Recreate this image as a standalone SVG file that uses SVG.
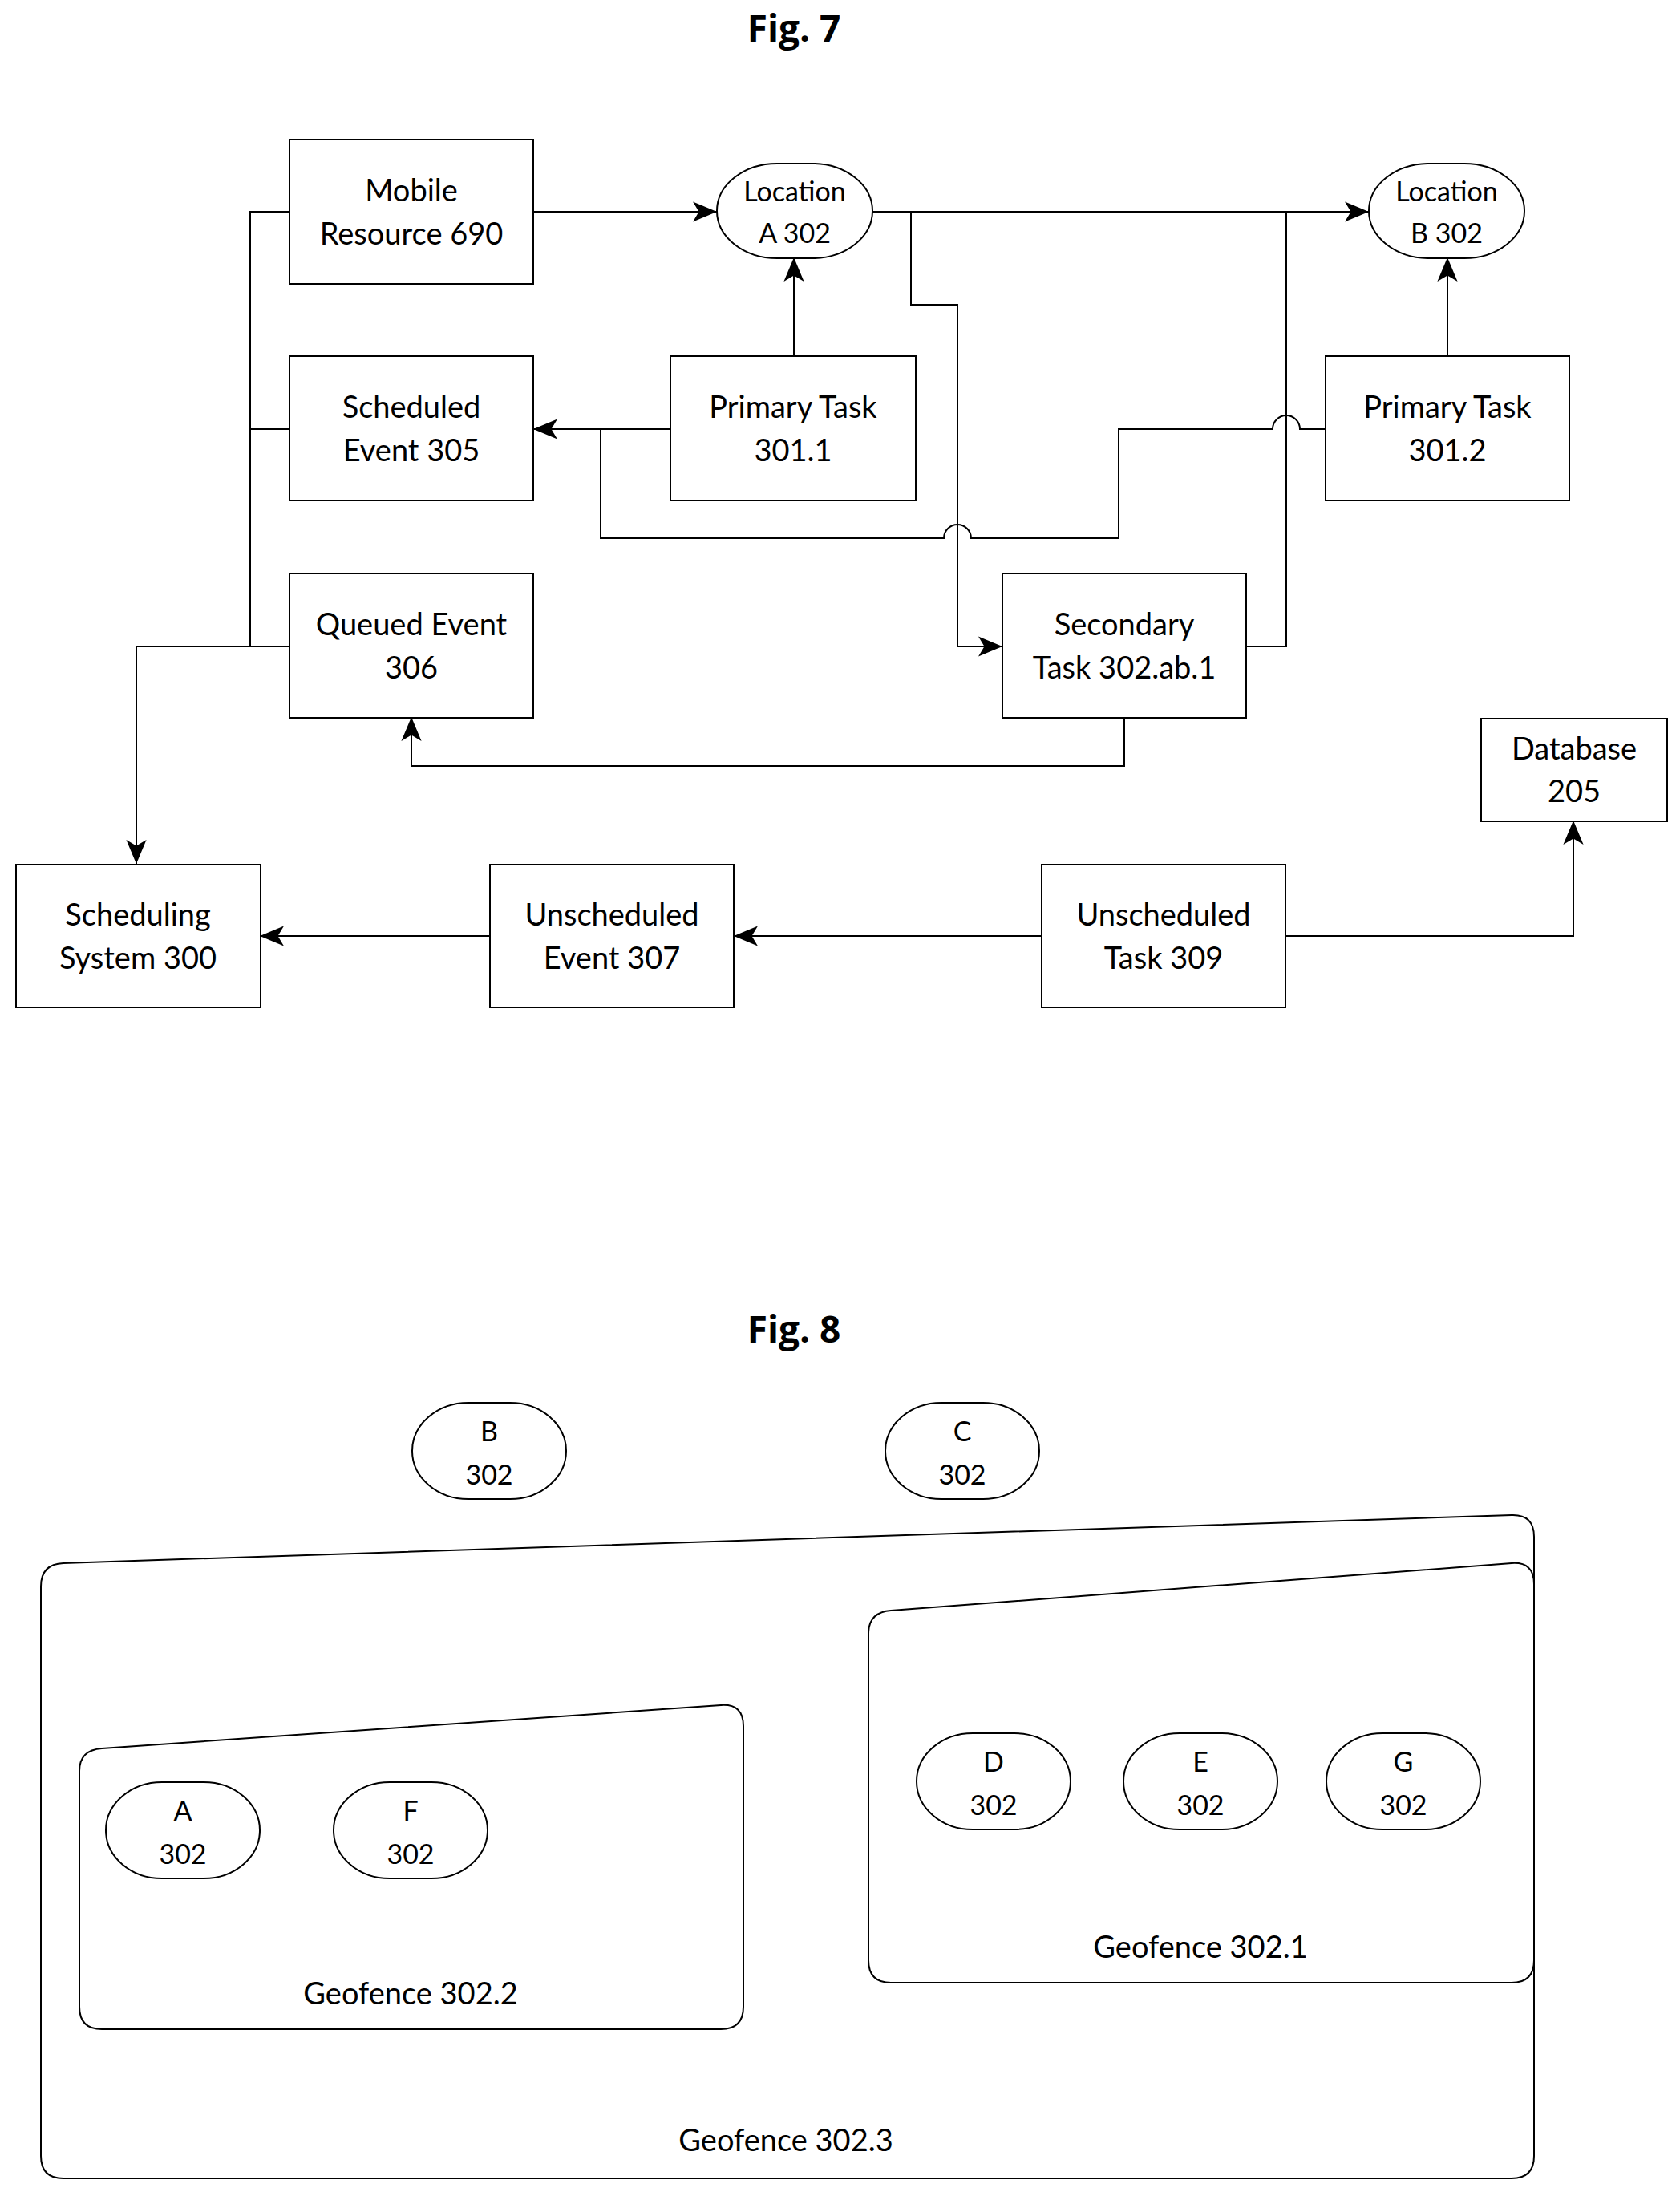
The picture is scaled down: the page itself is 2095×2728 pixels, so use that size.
<svg xmlns="http://www.w3.org/2000/svg" width="2095" height="2728" viewBox="0 0 2095 2728">
<style>
.b{fill:#fff;stroke:#000;stroke-width:2}
.t{font-family:Lato,"Noto Sans",sans-serif;font-size:38px;text-anchor:middle;fill:#000}
.s{font-size:34px}
.c{fill:none;stroke:#000;stroke-width:2}
.h{font-family:"Open Sans","Noto Sans",sans-serif;font-weight:bold;font-size:46px;text-anchor:middle}
</style>
<defs><marker id="a" viewBox="0 0 10 10" refX="10" refY="5" markerWidth="30" markerHeight="30" markerUnits="userSpaceOnUse" orient="auto"><path d="M0,0.8 L10,5 L0,9.2 L2.5,5 Z" fill="#000"/></marker></defs>
<rect width="2095" height="2728" fill="#fff"/>
<text class="h" x="990" y="52">Fig. 7</text>
<text class="h" x="990" y="1674">Fig. 8</text>
<g id="connectors">
<path class="c" d="M665,264 H894" marker-end="url(#a)"/>
<path class="c" d="M1087,264 H1707" marker-end="url(#a)"/>
<path class="c" d="M361,264 H312 V806 M361,535 H312 M361,806 H170 V1077" marker-end="url(#a)"/>
<path class="c" d="M990,443 V321" marker-end="url(#a)"/>
<path class="c" d="M1805,443 V321" marker-end="url(#a)"/>
<path class="c" d="M836,535 H665" marker-end="url(#a)"/>
<path class="c" d="M1653,535 H1621 A17,17 0 0 0 1587,535 H1395 V671 H1211 A17,17 0 0 0 1177,671 H749 V535"/>
<path class="c" d="M1136,264 V380 H1194 V806 H1250" marker-end="url(#a)"/>
<path class="c" d="M1554,806 H1604 V264"/>
<path class="c" d="M1402,894 V955 H513 V894" marker-end="url(#a)"/>
<path class="c" d="M1299,1167 H915" marker-end="url(#a)"/>
<path class="c" d="M611,1167 H324" marker-end="url(#a)"/>
<path class="c" d="M1603,1167 H1962 V1023" marker-end="url(#a)"/>
</g>
<g id="mobile"><rect class="b" x="361" y="174" width="304" height="180"/><text class="t" x="513" y="251">Mobile</text><text class="t" x="513" y="305">Resource 690</text></g>
<g id="locA"><rect class="b" x="894" y="204" width="194" height="118" rx="75" ry="59"/><text class="t s" x="991" y="251">Location</text><text class="t s" x="991" y="303">A 302</text></g>
<g id="locB"><rect class="b" x="1707" y="204" width="194" height="118" rx="75" ry="59"/><text class="t s" x="1804" y="251">Location</text><text class="t s" x="1804" y="303">B 302</text></g>
<g id="sched"><rect class="b" x="361" y="444" width="304" height="180"/><text class="t" x="513" y="521">Scheduled</text><text class="t" x="513" y="575">Event 305</text></g>
<g id="p1"><rect class="b" x="836" y="444" width="306" height="180"/><text class="t" x="989" y="521">Primary Task</text><text class="t" x="989" y="575">301.1</text></g>
<g id="p2"><rect class="b" x="1653" y="444" width="304" height="180"/><text class="t" x="1805" y="521">Primary Task</text><text class="t" x="1805" y="575">301.2</text></g>
<g id="queued"><rect class="b" x="361" y="715" width="304" height="180"/><text class="t" x="513" y="792">Queued Event</text><text class="t" x="513" y="846">306</text></g>
<g id="sec"><rect class="b" x="1250" y="715" width="304" height="180"/><text class="t" x="1402" y="792">Secondary</text><text class="t" x="1402" y="846">Task 302.ab.1</text></g>
<g id="db"><rect class="b" x="1847" y="896" width="232" height="128"/><text class="t" x="1963" y="947">Database</text><text class="t" x="1963" y="1000">205</text></g>
<g id="ss"><rect class="b" x="20" y="1078" width="305" height="178"/><text class="t" x="172" y="1154">Scheduling</text><text class="t" x="172" y="1208">System 300</text></g>
<g id="ue"><rect class="b" x="611" y="1078" width="304" height="178"/><text class="t" x="763" y="1154">Unscheduled</text><text class="t" x="763" y="1208">Event 307</text></g>
<g id="ut"><rect class="b" x="1299" y="1078" width="304" height="178"/><text class="t" x="1451" y="1154">Unscheduled</text><text class="t" x="1451" y="1208">Task 309</text></g>
<g id="g3"><path class="b" d="M51,1978 Q51,1950 79,1949 L1885,1889 Q1913,1888 1913,1916 V2688 Q1913,2716 1885,2716 H79 Q51,2716 51,2688 Z"/><text class="t" x="980" y="2682">Geofence 302.3</text></g>
<g id="g1"><path class="b" d="M1083,2037 Q1083,2010 1111,2008 L1885,1949 Q1913,1947 1913,1975 V2444 Q1913,2472 1885,2472 H1111 Q1083,2472 1083,2444 Z"/><text class="t" x="1497" y="2441">Geofence 302.1</text></g>
<g id="g2"><path class="b" d="M99,2208 Q99,2182 127,2180 L899,2126 Q927,2124 927,2152 V2502 Q927,2530 899,2530 H127 Q99,2530 99,2502 Z"/><text class="t" x="512" y="2499">Geofence 302.2</text></g>
<g id="nB"><rect class="b" x="514" y="1749" width="192" height="120" rx="70" ry="60"/><text class="t s" x="610" y="1797">B</text><text class="t s" x="610" y="1851">302</text></g>
<g id="nC"><rect class="b" x="1104" y="1749" width="192" height="120" rx="70" ry="60"/><text class="t s" x="1200" y="1797">C</text><text class="t s" x="1200" y="1851">302</text></g>
<g id="nA"><rect class="b" x="132" y="2222" width="192" height="120" rx="70" ry="60"/><text class="t s" x="228" y="2270">A</text><text class="t s" x="228" y="2324">302</text></g>
<g id="nF"><rect class="b" x="416" y="2222" width="192" height="120" rx="70" ry="60"/><text class="t s" x="512" y="2270">F</text><text class="t s" x="512" y="2324">302</text></g>
<g id="nD"><rect class="b" x="1143" y="2161" width="192" height="120" rx="70" ry="60"/><text class="t s" x="1239" y="2209">D</text><text class="t s" x="1239" y="2263">302</text></g>
<g id="nE"><rect class="b" x="1401" y="2161" width="192" height="120" rx="70" ry="60"/><text class="t s" x="1497" y="2209">E</text><text class="t s" x="1497" y="2263">302</text></g>
<g id="nG"><rect class="b" x="1654" y="2161" width="192" height="120" rx="70" ry="60"/><text class="t s" x="1750" y="2209">G</text><text class="t s" x="1750" y="2263">302</text></g>
</svg>
